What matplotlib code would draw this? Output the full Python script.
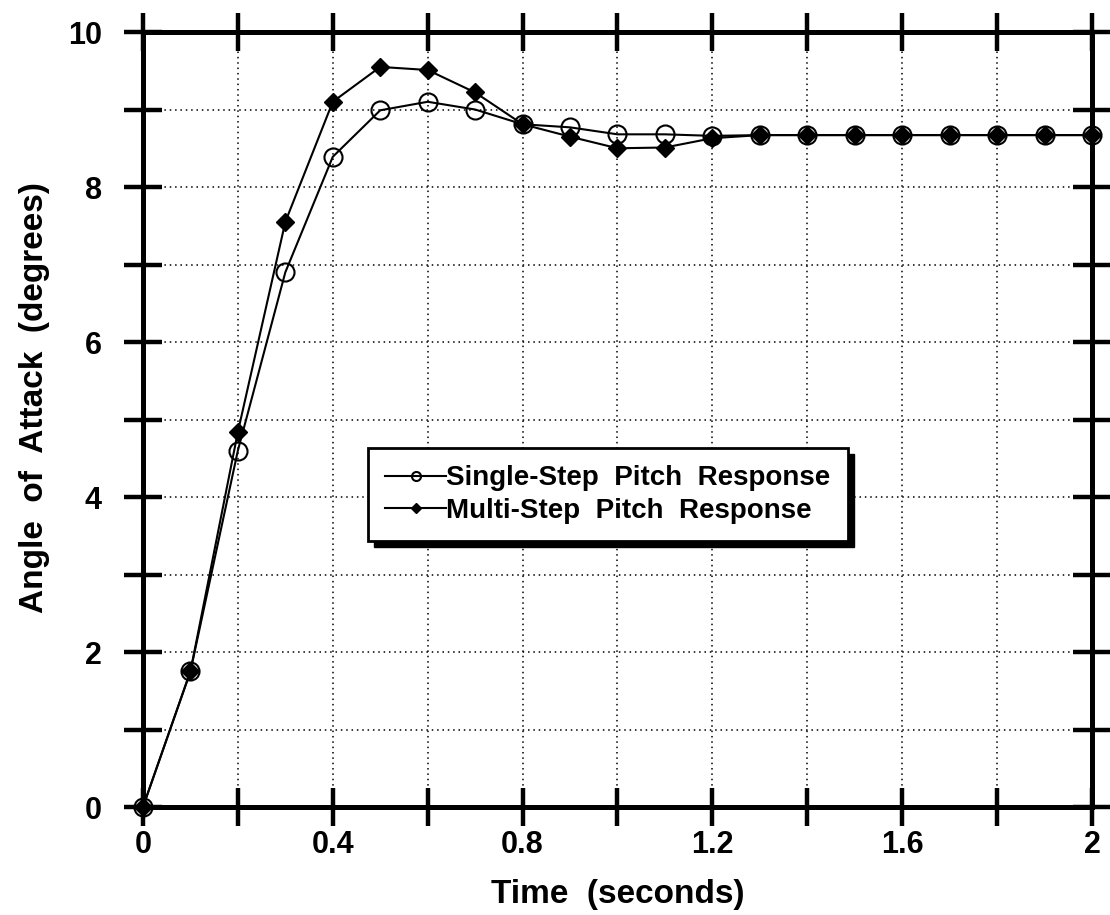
import matplotlib.pyplot as plt
from matplotlib.patches import Rectangle
from matplotlib.transforms import IdentityTransform

plt.rcParams['font.family'] = ['Liberation Sans', 'DejaVu Sans']
plt.rcParams['font.weight'] = 'bold'

# time in seconds, one sample every 0.1 s
time = [0.0, 0.1, 0.2, 0.3, 0.4, 0.5, 0.6, 0.7, 0.8, 0.9, 1.0,
        1.1, 1.2, 1.3, 1.4, 1.5, 1.6, 1.7, 1.8, 1.9, 2.0]
single_step = [0.0, 1.75, 4.60, 6.90, 8.39, 8.99, 9.10, 9.00, 8.81, 8.77, 8.68,
               8.68, 8.66, 8.67, 8.67, 8.67, 8.67, 8.67, 8.67, 8.67, 8.67]
multi_step = [0.0, 1.75, 4.84, 7.55, 9.10, 9.55, 9.51, 9.22, 8.81, 8.65, 8.50,
              8.51, 8.63, 8.67, 8.67, 8.67, 8.67, 8.67, 8.67, 8.67, 8.67]

x_ticks = [0.0, 0.2, 0.4, 0.6, 0.8, 1.0, 1.2, 1.4, 1.6, 1.8, 2.0]
x_ticklabels = ['0', '', '0.4', '', '0.8', '', '1.2', '', '1.6', '', '2']
y_ticks = [0, 1, 2, 3, 4, 5, 6, 7, 8, 9, 10]
y_ticklabels = ['0', '', '2', '', '4', '', '6', '', '8', '', '10']

fig = plt.figure(figsize=(11.1, 9.15), dpi=100)
ax = fig.add_axes([0.1288, 0.118, 0.855, 0.847])

ax.plot(time, single_step, color='black', lw=1.5, marker='o', ms=13,
        mfc='none', mec='black', mew=1.5, clip_on=False, zorder=3,
        label='Single-Step  Pitch  Response')
ax.plot(time, multi_step, color='black', lw=1.5, marker='D', ms=9.5,
        mfc='black', mec='black', clip_on=False, zorder=4,
        label='Multi-Step  Pitch  Response')

ax.set_xlim(0, 2)
ax.set_ylim(0, 10)
ax.set_xticks(x_ticks)
ax.set_xticklabels(x_ticklabels)
ax.set_yticks(y_ticks)
ax.set_yticklabels(y_ticklabels)

ax.grid(True, color='black', linestyle=(0, (1, 2.5)), linewidth=1.1)
ax.set_axisbelow(True)

ax.tick_params(axis='both', direction='inout', length=27, width=3.2,
               labelsize=22, top=True, right=True)
ax.tick_params(axis='x', pad=3)
ax.tick_params(axis='y', pad=16)
for sp in ax.spines.values():
    sp.set_linewidth(3.6)
    sp.set_capstyle('projecting')

ax.set_xlabel('Time  (seconds)', fontsize=24, fontweight='bold', labelpad=14)
ax.set_ylabel('Angle  of  Attack  (degrees)', fontsize=24, fontweight='bold')
ax.yaxis.set_label_coords(-0.098, 0.528)

leg = ax.legend(loc='center', bbox_to_anchor=(0.49, 0.403), fontsize=20,
                frameon=True, fancybox=False, edgecolor='black', framealpha=1,
                handlelength=2.2, handletextpad=0.0, markerscale=0.5,
                borderpad=0.62, labelspacing=0.25)
leg.get_frame().set_linewidth(2)
leg.set_zorder(6)

# solid drop shadow behind the legend box
fig.canvas.draw()
bb = leg.get_window_extent()
shadow = Rectangle((bb.x0 + 6, bb.y0 - 6), bb.width, bb.height,
                   transform=IdentityTransform(), facecolor='black',
                   edgecolor='black', zorder=5, clip_on=False)
ax.add_artist(shadow)

fig.savefig('out.png', dpi=100)
